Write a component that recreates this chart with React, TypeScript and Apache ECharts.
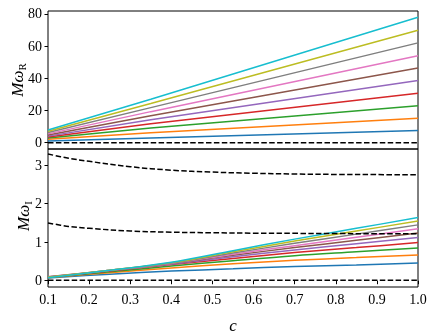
import React, { useEffect, useRef } from "react";
import * as echarts from "echarts";

const COLORS = ["#1f77b4", "#ff7f0e", "#2ca02c", "#d62728", "#9467bd", "#8c564b", "#e377c2", "#7f7f7f", "#bcbd22", "#17becf"];

// top panel: real part, straight lines
const cTop = [0.1, 0.35, 1.0];
const omegaR = [
  [1.0, 2.9, 7.6],
  [2.2, 6.2, 15.2],
  [2.9, 9.2, 22.9],
  [3.5, 11.8, 30.7],
  [4.1, 14.3, 38.7],
  [4.8, 16.8, 46.4],
  [5.5, 19.3, 54.0],
  [6.3, 21.8, 62.0],
  [7.1, 24.3, 69.9],
  [7.9, 27.0, 77.9],
];

// bottom panel: imaginary part
const cBottom = [0.1, 0.25, 0.4, 0.55, 0.7, 0.85, 1.0];
const omegaI = [
  [0.07, 0.17, 0.25, 0.31, 0.37, 0.41, 0.46],
  [0.08, 0.21, 0.33, 0.44, 0.53, 0.6, 0.67],
  [0.085, 0.23, 0.38, 0.52, 0.65, 0.75, 0.85],
  [0.09, 0.25, 0.42, 0.58, 0.73, 0.86, 0.99],
  [0.09, 0.26, 0.43, 0.62, 0.8, 0.96, 1.12],
  [0.095, 0.26, 0.44, 0.66, 0.86, 1.05, 1.24],
  [0.1, 0.27, 0.45, 0.69, 0.91, 1.13, 1.35],
  [0.1, 0.27, 0.46, 0.72, 0.97, 1.21, 1.45],
  [0.09, 0.27, 0.47, 0.75, 1.03, 1.29, 1.55],
  [0.08, 0.27, 0.48, 0.78, 1.08, 1.36, 1.64],
];

// dashed reference curves
const cDashed = [0.1, 0.15, 0.2, 0.3, 0.4, 0.5, 0.6, 0.7, 0.8, 0.9, 1.0];
const dashedUpper = [3.29, 3.18, 3.1, 2.96, 2.87, 2.82, 2.79, 2.77, 2.76, 2.755, 2.75];
const dashedLower = [1.5, 1.41, 1.36, 1.29, 1.26, 1.245, 1.235, 1.23, 1.225, 1.22, 1.22];
const cZero = [0.1, 1.0];
const zeroTop = [0, 0];
const zeroBottom = [0.01, 0.01];

const topTicks = [0, 20, 40, 60, 80];
const bottomTicks = [0, 1, 2, 3];
const xTicks = [0.1, 0.2, 0.3, 0.4, 0.5, 0.6, 0.7, 0.8, 0.9, 1.0];

const FONT = "Liberation Serif";

const zip = (xs: number[], ys: number[]) => xs.map((x, i) => [x, ys[i]]);

export default function App() {
  const ref = useRef<HTMLDivElement>(null);
  useEffect(() => {
    if (!ref.current) return;
    const chart = echarts.init(ref.current, null, { renderer: "svg" });
    const lineSeries = (data: number[][], color: string, gi: number, dashed = false, smooth = false) => ({
      type: "line",
      xAxisIndex: gi,
      yAxisIndex: gi,
      data,
      showSymbol: false,
      symbol: "none",
      silent: true,
      smooth: smooth ? 0.35 : false,
      lineStyle: { color, width: 1.5, type: dashed ? [5.5, 2.4] : "solid" },
    });
    const series: any[] = [];
    omegaR.forEach((v, i) => series.push(lineSeries(zip(cTop, v), COLORS[i], 0)));
    series.push(lineSeries(zip(cZero, zeroTop), "#000", 0, true));
    omegaI.forEach((v, i) => series.push(lineSeries(zip(cBottom, v), COLORS[i], 1, false, true)));
    series.push(lineSeries(zip(cDashed, dashedUpper), "#000", 1, true, true));
    series.push(lineSeries(zip(cDashed, dashedLower), "#000", 1, true, true));
    series.push(lineSeries(zip(cZero, zeroBottom), "#000", 1, true));

    const labelStyle = { color: "#000", fontFamily: FONT, fontSize: 14 };
    const yLabel = (x: number, y: number, sub: string) => ({
      type: "text",
      x,
      y,
      rotation: Math.PI / 2,
      style: {
        text: `{a|Mω}{b|${sub}}`,
        align: "center",
        verticalAlign: "middle",
        fill: "#000",
        rich: {
          a: { fontFamily: FONT, fontStyle: "italic", fontSize: 17, lineHeight: 20, verticalAlign: "middle" },
          b: { fontFamily: FONT, fontSize: 11, lineHeight: 11, verticalAlign: "bottom" },
        },
      },
    });

    chart.setOption({
      animation: false,
      grid: [
        { left: 48, right: 18, top: 11, height: 138, show: true, borderColor: "#000", borderWidth: 1 },
        { left: 48, right: 18, top: 149, height: 139, show: true, borderColor: "#000", borderWidth: 1 },
      ],
      xAxis: [
        {
          gridIndex: 0, type: "value", min: 0.1, max: 1.0,
          axisLine: { show: false }, axisTick: { show: false }, axisLabel: { show: false }, splitLine: { show: false },
        },
        {
          gridIndex: 1, type: "value", min: 0.1, max: 1.0,
          axisLine: { show: false },
          axisTick: { show: true, length: 3.5, customValues: xTicks, lineStyle: { color: "#000", width: 1 } },
          axisLabel: { ...labelStyle, margin: 5, customValues: xTicks, formatter: (v: number) => v.toFixed(1) },
          splitLine: { show: false },
          name: "c",
          nameLocation: "middle",
          nameGap: 30,
          nameTextStyle: { fontFamily: FONT, fontStyle: "italic", fontSize: 17, color: "#000" },
        },
      ],
      yAxis: [
        {
          gridIndex: 0, type: "value", min: -3.9, max: 81.8,
          axisLine: { show: false },
          axisTick: { show: true, length: 3.5, customValues: topTicks, lineStyle: { color: "#000", width: 1 } },
          axisLabel: { ...labelStyle, margin: 6, customValues: topTicks },
          splitLine: { show: false },
        },
        {
          gridIndex: 1, type: "value", min: -0.163, max: 3.42,
          axisLine: { show: false },
          axisTick: { show: true, length: 3.5, customValues: bottomTicks, lineStyle: { color: "#000", width: 1 } },
          axisLabel: { ...labelStyle, margin: 6, customValues: bottomTicks },
          splitLine: { show: false },
        },
      ],
      graphic: [yLabel(17, 80, "R"), yLabel(23, 216, "I")],
      series,
    });
    return () => chart.dispose();
  }, []);
  return <div ref={ref} style={{ position: "fixed", left: 0, top: 0, width: 436, height: 335 }} />;
}
